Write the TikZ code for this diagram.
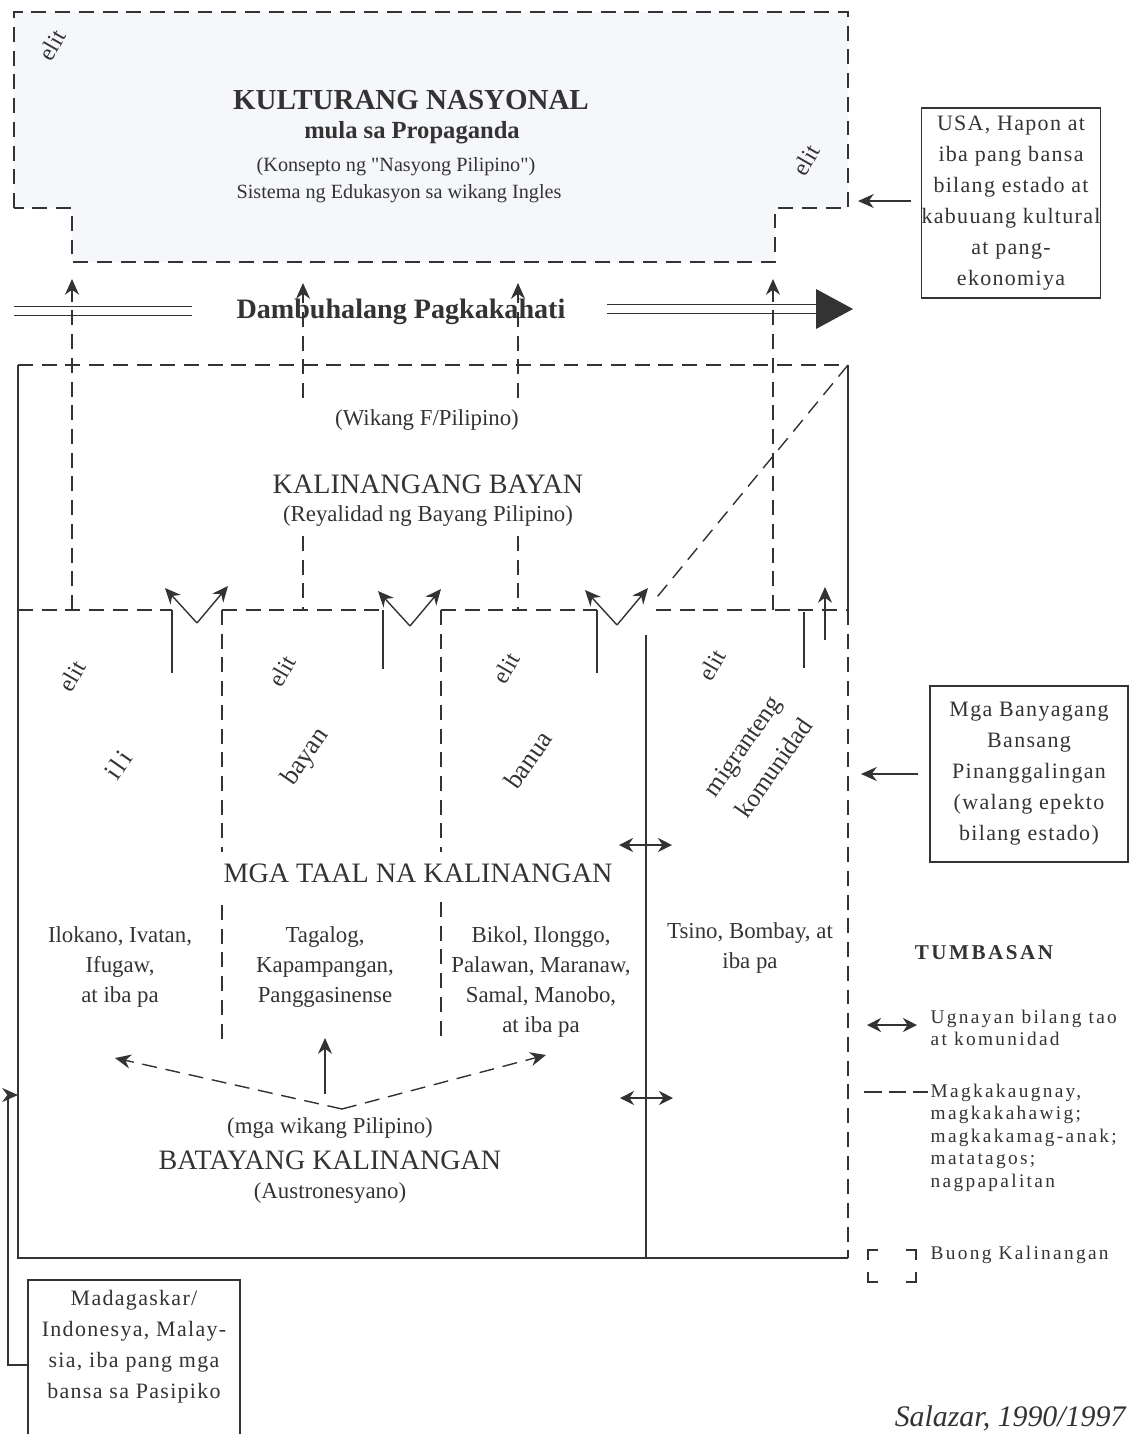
\documentclass[tikz,border=0pt]{standalone}
\usepackage{fontspec}
\setmainfont{Liberation Serif}
\newfontfamily\boxfont[LetterSpace=6]{Liberation Serif}
\newfontfamily\keyfont[LetterSpace=12]{Liberation Serif}
\newfontfamily\quotefont[Ligatures=TeXOff]{Liberation Serif}
\usetikzlibrary{arrows.meta}
\definecolor{ink}{HTML}{333333}
\definecolor{wash}{HTML}{F5F7FA}
\newcommand{\elit}[3]{\node[elittext] (#1) at (#2,#3) {elit};}
\newcommand{\vmark}[3]{\coordinate (#1) at (#2,#3);
  \coordinate (#1l) at ([shift={(-32,-35)}]#1);
  \coordinate (#1r) at ([shift={(31,-37)}]#1);
  \draw[tip] (#1) -- (#1l);
  \draw[tip] (#1) -- (#1r);}

\begin{document}
\begin{tikzpicture}[x=0.02cm, y=-0.02cm, line width=0.8pt, color=ink,
    brokenline/.style={dash pattern=on 8.5pt off 5pt},
    tip/.style={-{Stealth[length=9pt,width=8pt]}},
    twotip/.style={{Stealth[length=8pt,width=8pt]}-{Stealth[length=8pt,width=8pt]}},
    twin/.style={double=white, double distance=4.5pt, line width=0.6pt},
    head/.style={font=\fontsize{16}{18}\selectfont},
    boldhead/.style={font=\bfseries\fontsize{16.5}{18}\selectfont},
    sub/.style={font=\fontsize{13}{15}\selectfont},
    small/.style={font=\fontsize{11.5}{13}\selectfont},
    coltext/.style={font=\fontsize{13}{17}\selectfont, align=center},
    elittext/.style={font=\fontsize{13.5}{14}\selectfont, rotate=60},
    slanted/.style={font=\fontsize{15}{19}\selectfont, rotate=55, align=center},
    sidebox/.style={draw, line width=0.7pt, font=\boxfont\fontsize{12.5}{17.6}\selectfont, align=center, inner sep=0pt},
    keytext/.style={font=\keyfont\fontsize{11}{12.8}\selectfont, align=left, anchor=west, inner sep=0pt}]
  \useasboundingbox (0,0) rectangle (1136,1434);

  % kulturang nasyonal
  \draw[brokenline, fill=wash] (14,208) -- (14,12) -- (848,12) -- (848,208) -- (775,208)
    -- (775,262) -- (72,262) -- (72,208) -- cycle;
  \node[boldhead] (kn) at (411,100) {KULTURANG NASYONAL};
  \node[font=\bfseries\fontsize{14}{16}\selectfont] (prop) at (412,133) {mula sa Propaganda};
  \node[small] (konsepto) at (396,167) {(Konsepto ng {\quotefont"}Nasyong Pilipino{\quotefont"})};
  \node[small] (sistema) at (399,194) {Sistema ng Edukasyon sa wikang Ingles};
  \elit{elitk}{52}{45}
  \elit{elitm}{806}{160}
  \coordinate (knE) at (858,201);

  % ibang bansa
  \node[sidebox, minimum width=3.56cm, minimum height=3.8cm] (usa) at (1011,203)
    {USA, Hapon at\\iba pang bansa\\bilang estado at\\kabuuang kultural\\at pang-\\ekonomiya};
  \draw[tip, shorten <=0.2cm] (usa.west |- knE) -- (knE);

  % dambuhalang pagkakahati
  \node[font=\bfseries\fontsize{16}{18}\selectfont] (dp) at (401,312) {Dambuhalang Pagkakahati};
  \coordinate (dpL) at (14,311);
  \coordinate (dpLe) at (192,311);
  \coordinate (dpR) at (607,309);
  \coordinate (dpRe) at (822,309);
  \coordinate (dpTip) at (853,309);
  \draw[twin] (dpL) -- (dpLe);
  \draw[twin] (dpR) -- (dpRe);
  \fill (816,289) -- (dpTip) -- (816,329) -- cycle;

  % kalinangang bayan
  \draw[brokenline] (18,365) -- (848,365);
  \draw (18,365) -- (18,1258) -- (848,1258);
  \draw (848,365) -- (848,610);
  \draw[brokenline] (848,610) -- (848,1258);
  \draw[brokenline] (848,365) -- (653,602);
  \node[sub] (wikang) at (427,420) {(Wikang F/Pilipino)};
  \node[head] (kb) at (428,484) {KALINANGANG BAYAN};
  \node[sub] (reyal) at (428,516) {(Reyalidad ng Bayang Pilipino)};

  % pataas sa kulturang nasyonal
  \coordinate (upa) at (72,610);   \coordinate (upaT) at (72,279);
  \coordinate (upd) at (773,610);  \coordinate (updT) at (773,279);
  \coordinate (upb) at (303,398);  \coordinate (upbT) at (303,283);
  \coordinate (upc) at (518,398);  \coordinate (upcT) at (518,283);
  \draw[brokenline, tip] (upa) -- (upaT);
  \draw[brokenline, tip] (upd) -- (updT);
  \draw[brokenline, tip] (upb) -- (upbT);
  \draw[brokenline, tip] (upc) -- (upcT);
  \draw[brokenline] (303,536) -- (303,610);
  \draw[brokenline] (518,536) -- (518,610);

  % hangganan ng mga taal na kalinangan
  \draw[brokenline] (18,610) -- (172,610);
  \draw (172,610) -- (172,673);
  \draw[brokenline] (222,610) -- (383,610);
  \draw (383,610) -- (383,669);
  \draw[brokenline] (441,610) -- (597,610);
  \draw (597,610) -- (597,673);
  \draw[brokenline] (656,610) -- (848,610);
  \draw (804,612) -- (804,668);
  \draw[brokenline] (222,610) -- (222,852);
  \draw[brokenline] (222,905) -- (222,1040);
  \draw[brokenline] (441,610) -- (441,852);
  \draw[brokenline] (441,902) -- (441,1040);
  \draw (646,635) -- (646,1258);
  \vmark{va}{197}{623}
  \vmark{vb}{410}{626}
  \vmark{vc}{617}{625}
  \coordinate (upe) at (825,640);
  \coordinate (upeT) at (825,587);
  \draw[tip] (upe) -- (upeT);

  % mga elit
  \elit{elita}{72}{676}
  \elit{elitb}{282}{671}
  \elit{elitc}{506}{668}
  \elit{elitd}{712}{665}

  % pangalan ng mga kalinangan
  \node[slanted, font=\keyfont\fontsize{15}{19}\selectfont] (ili) at (118,765) {ili};
  \node[slanted] (bayan) at (306,757) {bayan};
  \node[slanted] (banua) at (528,760) {banua};
  \node[slanted, font=\fontsize{14.5}{22}\selectfont] (migrante) at (758,757) {migranteng\\komunidad};

  % ugnayan
  \coordinate (uga) at (619,845);  \coordinate (ugaE) at (672,845);
  \coordinate (ugb) at (620,1098); \coordinate (ugbE) at (673,1098);
  \draw[twotip] (uga) -- (ugaE);
  \draw[twotip] (ugb) -- (ugbE);

  % mga taal na kalinangan
  \node[head] (mtk) at (418,873) {MGA TAAL NA KALINANGAN};
  \node[coltext] (ilok) at (120,967) {Ilokano, Ivatan,\\Ifugaw,\\at iba pa};
  \node[coltext] (tagalog) at (325,967) {Tagalog,\\Kapampangan,\\Panggasinense};
  \node[coltext] (bikol) at (541,982) {Bikol, Ilonggo,\\Palawan, Maranaw,\\Samal, Manobo,\\at iba pa};
  \node[coltext] (tsino) at (750,948) {Tsino, Bombay, at\\iba pa};

  % batayang kalinangan
  \node[sub] (mgaw) at (330,1128) {(mga wikang Pilipino)};
  \node[head] (bk) at (330,1160) {BATAYANG KALINANGAN};
  \node[sub] (austro) at (330,1193) {(Austronesyano)};
  \coordinate (fork) at (342,1109);
  \coordinate (forkL) at (115,1058);
  \coordinate (forkR) at (546,1055);
  \coordinate (stem) at (325,1094);
  \coordinate (stemT) at (325,1038);
  \draw[brokenline, tip] (fork) -- (forkL);
  \draw[brokenline, tip] (fork) -- (forkR);
  \draw[tip] (stem) -- (stemT);

  % pasipiko
  \node[sidebox, draw=none] (mada) at (134,1347)
    {Madagaskar/\\Indonesya, Malay-\\sia, iba pang mga\\bansa sa Pasipiko};
  \draw[line width=0.7pt] (28,1440) -- (28,1280) -- (240,1280) -- (240,1440);
  \coordinate (madaW) at (28,1365);
  \coordinate (outerW) at (18,1095);
  \draw[tip] (madaW) -- ++(-20,0) |- (outerW);

  % banyagang bansa
  \node[sidebox, minimum width=3.96cm, minimum height=3.52cm] (banyaga) at (1029,774)
    {Mga Banyagang\\Bansang\\Pinanggalingan\\(walang epekto\\bilang estado)};
  \coordinate (outerE) at (861,774);
  \draw[tip, shorten <=0.22cm] (banyaga.west) -- (outerE);

  % tumbasan
  \node[font=\keyfont\bfseries\fontsize{12}{14}\selectfont] (tumbasan) at (984,953) {TUMBASAN};
  \coordinate (keya) at (867,1025); \coordinate (keyaE) at (917,1025);
  \draw[twotip] (keya) -- (keyaE);
  \node[keytext] (ugnayan) at (930,1028) {Ugnayan bilang tao\\at komunidad};
  \coordinate (keyb) at (864,1092); \coordinate (keybE) at (928,1092);
  \draw[dash pattern=on 10pt off 4pt] (keyb) -- (keybE);
  \node[keytext, anchor=north west] (kaugnay) at (930,1083)
    {Magkakaugnay,\\magkakahawig;\\magkakamag-anak;\\matatagos;\\nagpapalitan};
  \draw (868,1260) -- (868,1250) -- (878,1250);
  \draw (906,1250) -- (916,1250) -- (916,1260);
  \draw (868,1272) -- (868,1282) -- (878,1282);
  \draw (906,1282) -- (916,1282) -- (916,1272);
  \node[keytext] (buong) at (930,1255) {Buong Kalinangan};

  \node[font=\itshape\fontsize{17}{19}\selectfont, anchor=east] (salazar) at (1132,1418) {Salazar, 1990/1997};
\end{tikzpicture}
\end{document}
